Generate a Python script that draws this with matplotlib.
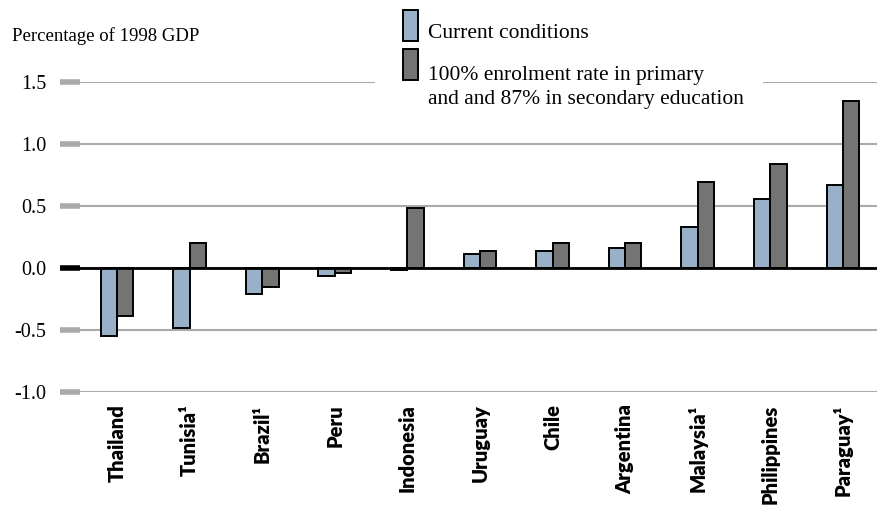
from matplotlib import pyplot as plt
from matplotlib.patches import Rectangle
import numpy as np

# data
countries = ["Thailand", "Tunisia\u00b9", "Brazil\u00b9", "Peru", "Indonesia", "Uruguay",
             "Chile", "Argentina", "Malaysia\u00b9", "Philippines", "Paraguay\u00b9"]
current = [-0.55, -0.48, -0.21, -0.065, -0.015, 0.11, 0.14, 0.16, 0.33, 0.56, 0.67]
full_enrolment = [-0.39, 0.20, -0.15, -0.04, 0.48, 0.14, 0.20, 0.20, 0.69, 0.84, 1.35]
yticks = [-1.0, -0.5, 0.0, 0.5, 1.0, 1.5]

W, H = 877, 517
BLUE = "#98b0c8"
DARK = "#747474"
GRID = "#aaaaaa"
SERIF = "Liberation Serif"

def fx(px):
    return px / W

def fy(py):
    return 1 - py / H

fig = plt.figure(figsize=(W / 100, H / 100), dpi=100)
ax = fig.add_axes([fx(80), fy(392), fx(877) - fx(80), fy(82) - fy(392)])

x = np.arange(len(countries))
w = 0.225
ax.bar(x - w / 2, current, w, color=BLUE, edgecolor="black", linewidth=1.4, zorder=3)
ax.bar(x + w / 2, full_enrolment, w, color=DARK, edgecolor="black", linewidth=1.4, zorder=3)

ax.set_xlim(-0.51, 10.47)
ax.set_ylim(-1.0, 1.5)

for s in ax.spines.values():
    s.set_visible(False)

ax.set_yticks(yticks)
ax.set_yticklabels(["%.1f" % v for v in yticks], fontfamily=SERIF, fontsize=14.5)
ax.tick_params(axis="y", length=14.5, width=4, color=GRID, pad=10, direction="out")
for t, v in zip(ax.yaxis.get_major_ticks(), yticks):
    if v == 0:
        t.tick1line.set_markeredgecolor("black")
ax.yaxis.grid(True, color=GRID, linewidth=1.5, zorder=0)
ax.axhline(0, color="black", linewidth=2, zorder=4)

ax.set_xticks(x)
ax.set_xticklabels(countries, rotation=90, fontfamily="Lato", fontweight="heavy",
                   fontsize=14.5, va="top", ha="center")
ax.tick_params(axis="x", length=0, pad=9)

fig.text(fx(12), fy(36), "Percentage of 1998 GDP", fontfamily=SERIF, fontsize=13.5,
         va="center", ha="left")

# legend, drawn by hand on a white patch that hides the top gridline
fig.patches.append(Rectangle((fx(375), fy(112)), fx(763) - fx(375), fy(0) - fy(112),
                             transform=fig.transFigure, facecolor="white",
                             edgecolor="none", zorder=5))
fig.patches.append(Rectangle((fx(403), fy(41)), fx(15), fy(10) - fy(41),
                             transform=fig.transFigure, facecolor=BLUE,
                             edgecolor="black", linewidth=1.4, zorder=6))
fig.patches.append(Rectangle((fx(403), fy(80)), fx(15), fy(49) - fy(80),
                             transform=fig.transFigure, facecolor=DARK,
                             edgecolor="black", linewidth=1.4, zorder=6))
fig.text(fx(428), fy(33), "Current conditions", fontfamily=SERIF, fontsize=15.5,
         va="center", ha="left", zorder=7)
fig.text(fx(428), fy(66), "100% enrolment rate in primary\nand and 87% in secondary education",
         fontfamily=SERIF, fontsize=15.5, va="top", ha="left", linespacing=1.35, zorder=7)

fig.savefig("out.png", dpi=100, facecolor="white")
